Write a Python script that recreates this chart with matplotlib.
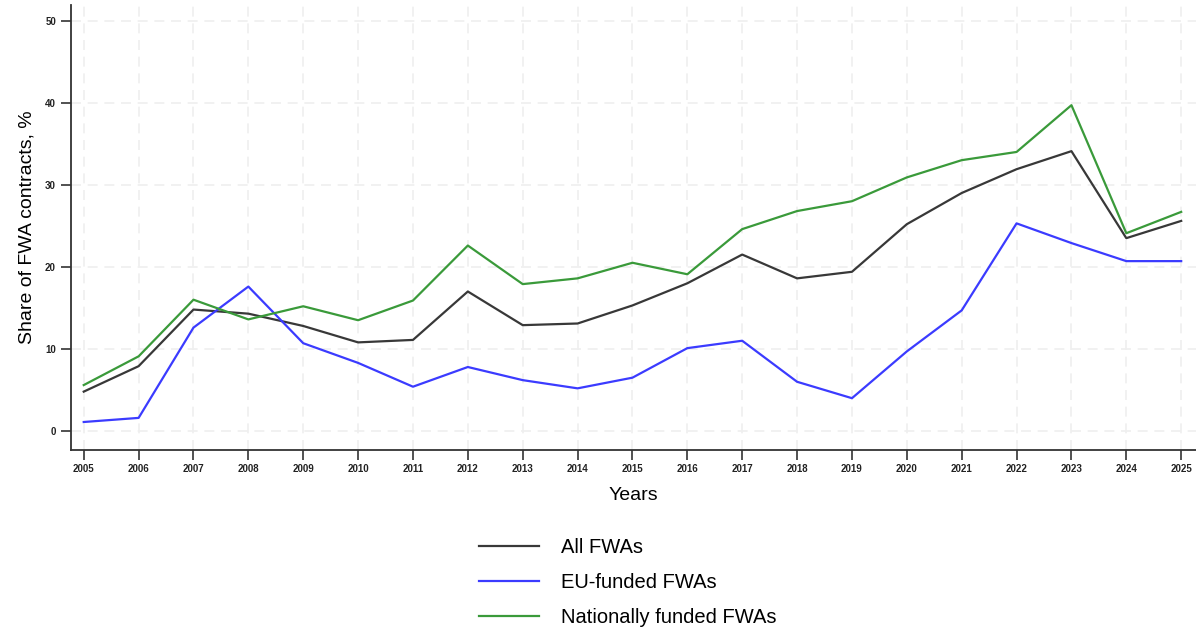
import matplotlib.pyplot as plt

plt.rcParams['font.family'] = ['Liberation Sans', 'DejaVu Sans']

years = list(range(2005, 2026))
all_fwa = [4.8, 7.9, 14.8, 14.3, 12.8, 10.8, 11.1, 17.0, 12.9, 13.1, 15.3,
           18.0, 21.5, 18.6, 19.4, 25.2, 29.0, 31.9, 34.1, 23.5, 25.6]
eu_fwa = [1.1, 1.6, 12.6, 17.6, 10.7, 8.3, 5.4, 7.8, 6.2, 5.2, 6.5,
          10.1, 11.0, 6.0, 4.0, 9.7, 14.7, 25.3, 22.9, 20.7, 20.7]
nat_fwa = [5.6, 9.1, 16.0, 13.6, 15.2, 13.5, 15.9, 22.6, 17.9, 18.6, 20.5,
           19.1, 24.6, 26.8, 28.0, 30.9, 33.0, 34.0, 39.7, 24.1, 26.7]
labels = ['All FWAs', 'EU-funded FWAs', 'Nationally funded FWAs']
colors = ['#383838', '#3b3bff', '#3a9a3a']

fig = plt.figure(figsize=(11.96, 6.31), dpi=100)
ax = fig.add_axes([0.059, 0.287, 0.941, 0.705])

for series, label, color in zip([all_fwa, eu_fwa, nat_fwa], labels, colors):
    ax.plot(years, series, color=color, linewidth=1.6, label=label)

ax.set_xlim(2004.76, 2025.27)
ax.set_ylim(-2.3, 51.9)
ax.set_xticks(years)
ax.set_yticks([0, 10, 20, 30, 40, 50])
ax.tick_params(axis='both', length=7, width=1.2, color='#333333',
               labelsize=7, labelcolor='#222222')
for lbl in ax.get_xticklabels() + ax.get_yticklabels():
    lbl.set_fontweight('bold')

# light dashed grid
ax.grid(True, color='#efefef', linestyle=(0, (6, 4)), linewidth=1.2)
ax.set_axisbelow(True)
for side in ['top', 'right']:
    ax.spines[side].set_visible(False)
for side in ['left', 'bottom']:
    ax.spines[side].set_color('#333333')
    ax.spines[side].set_linewidth(1.3)

ax.set_xlabel('Years', fontsize=14, labelpad=9)
ax.set_ylabel('Share of FWA contracts, %', fontsize=14, labelpad=7)

fig.legend(loc='upper center', bbox_to_anchor=(0.525, 0.176), frameon=False,
           fontsize=14.5, handlelength=3.0, handletextpad=1.1, labelspacing=0.8,
           ncol=1)

fig.savefig('out.png', dpi=100)
